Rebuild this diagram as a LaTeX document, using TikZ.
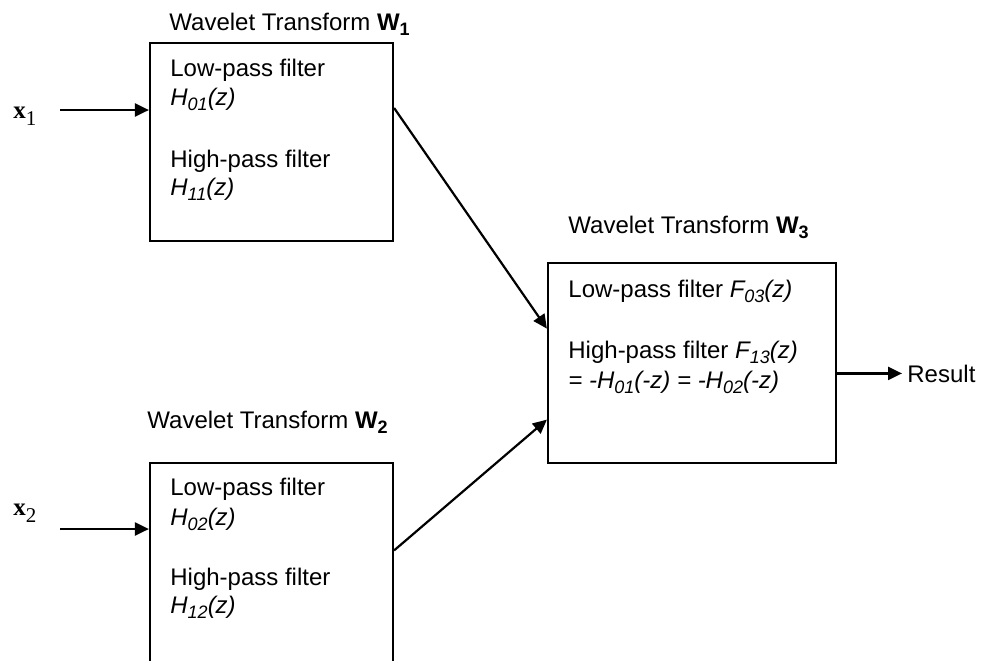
\documentclass[tikz,border=0pt]{standalone}
\usepackage{fontspec}
\setmainfont{Liberation Sans}
\newfontfamily\serif{Liberation Serif}
\usetikzlibrary{arrows.meta,calc}

\newcommand{\sub}[1]{\raisebox{-2.6pt}{\fontsize{9}{10}\selectfont #1}}
\newcommand{\filt}[2]{\textit{#1\sub{#2}(z)}}
\newcommand{\sig}[1]{{\serif\fontsize{12.5}{14}\selectfont\textbf{x}\raisebox{-3.5pt}{\fontsize{10.5}{12}\selectfont #1}}}
\newcommand{\wt}[1]{Wavelet Transform \textbf{W\sub{#1}}}

\tikzset{
  box/.style={draw, line width=1.1pt, minimum width=121.5pt, minimum height=99pt, inner sep=0pt},
  txt/.style={anchor=base west, inner sep=0pt, font=\fontsize{12}{14}\selectfont},
  arr/.style={-{Triangle[length=7pt,width=6.5pt]}, line width=1.1pt},
}

\begin{document}
\begin{tikzpicture}[x=0.5pt,y=-0.5pt]

    \useasboundingbox (0,0) rectangle (995,660);
    \clip (0,0) rectangle (995,660);

    % Boxes
    \node[box] (w1) at (271.5,142) {};
    \node[box, minimum height=118.5pt] (w2) at (271.5,581.5) {};
    \node[box, minimum width=144pt, minimum height=100pt] (w3) at (692,363) {};

    % Titles
    \node[txt] (t1) at (169,30) {\wt{1}};
    \node[txt] (t2) at (147,428) {\wt{2}};
    \node[txt] (t3) at (568,233) {\wt{3}};

    % Filters of W1
    \node[txt] (lo1) at (170,76) {Low-pass filter};
    \node[txt] (lof1) at (170,105) {\filt{H}{01}};
    \node[txt] (hi1) at (170,167) {High-pass filter};
    \node[txt] (hif1) at (170,195) {\filt{H}{11}};

    % Filters of W2
    \node[txt] (lo2) at (170,495) {Low-pass filter};
    \node[txt] (lof2) at (170,525) {\filt{H}{02}};
    \node[txt] (hi2) at (170,585) {High-pass filter};
    \node[txt] (hif2) at (170,613) {\filt{H}{12}};

    % Filters of W3
    \node[txt] (lo3) at (568,297) {Low-pass filter \filt{F}{03}};
    \node[txt] (hi3) at (568,358) {High-pass filter \filt{F}{13}};
    \node[txt] (eq3) at (568,388) {\textit{= -H\sub{01}(-z) = -H\sub{02}(-z)}};

    % Inputs and output
    \node[txt] (x1) at (13,118) {\sig{1}};
    \node[txt] (x2) at (13,515) {\sig{2}};
    \node[txt] (res) at (907,382) {Result};

    \coordinate (in1) at (60,110);
    \coordinate (in2) at (60,529);

    % Connectors
    \draw[arr] (in1) -- (in1 -| w1.west);
    \draw[arr] (in2) -- (in2 -| w2.west);
    \draw[arr] ($(w1.north east)!0.33!(w1.south east)$) -- ($(w3.north west)!0.33!(w3.south west)$);
    \draw[arr] ($(w2.north east)!0.37!(w2.south east)$) -- ($(w3.north west)!0.78!(w3.south west)$);
    \draw[arr, shorten >=2.5pt] (res.west -| w3.east) -- (res.west);

\end{tikzpicture}
\end{document}
